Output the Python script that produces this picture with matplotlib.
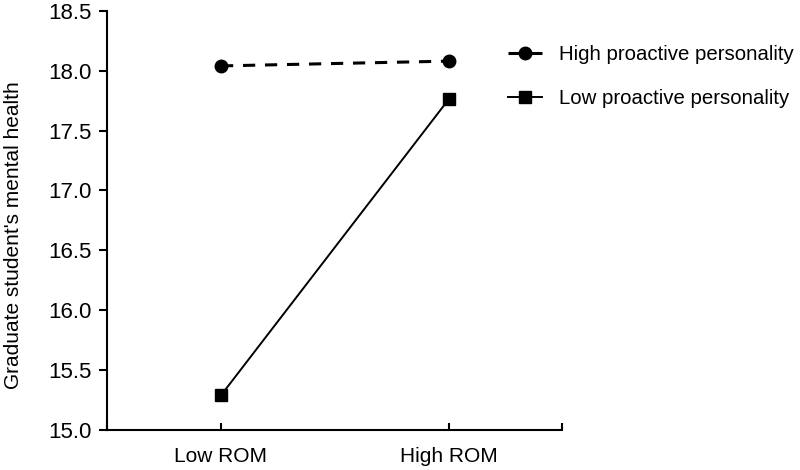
import matplotlib.pyplot as plt

plt.rcParams['font.family'] = ['Liberation Sans', 'DejaVu Sans']

# data
categories = ['Low ROM', 'High ROM']
high_pp = [18.04, 18.08]   # high proactive personality
low_pp = [15.29, 17.76]    # low proactive personality
y_ticks = [15.0, 15.5, 16.0, 16.5, 17.0, 17.5, 18.0, 18.5]

fig = plt.figure(figsize=(8, 4.7), dpi=100)
ax = fig.add_axes([0.134, 0.085, 0.569, 0.892])

x = list(range(len(categories)))
ax.plot(x, high_pp, color='black', lw=2.2, linestyle=(0, (4.0, 3.2)),
        marker='o', markersize=9, label='High proactive personality')
ax.plot(x, low_pp, color='black', lw=1.4, linestyle='-',
        marker='s', markersize=8, label='Low proactive personality')

ax.set_xlim(-0.5, 1.5)
ax.set_ylim(15.0, 18.5)
ax.set_xticks([-0.5, 0, 1, 1.5])
ax.set_xticklabels(['', categories[0], categories[1], ''])
ax.set_yticks(y_ticks)
ax.set_yticklabels([f'{v:.1f}' for v in y_ticks])

for s in ['top', 'right']:
    ax.spines[s].set_visible(False)
for s in ['left', 'bottom']:
    ax.spines[s].set_linewidth(1.5)

ax.tick_params(axis='y', direction='out', length=6, width=1.5, labelsize=16, pad=5)
ax.tick_params(axis='x', direction='in', length=5, width=1.5, labelsize=15, pad=12)

ax.set_ylabel("Graduate student's mental health", fontsize=15)
ax.yaxis.set_label_coords(-0.1844, 0.465)

fig.legend(loc='upper left', bbox_to_anchor=(0.6125, 0.9436), frameon=False,
           fontsize=14.7, handlelength=1.665, handletextpad=0.83, labelspacing=1.25)

fig.savefig('out.png', dpi=100)
